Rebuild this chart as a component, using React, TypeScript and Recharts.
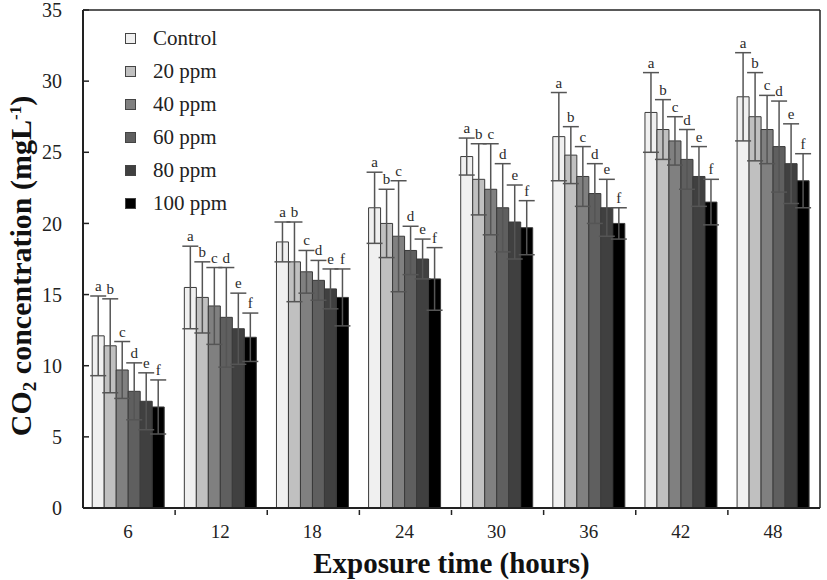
import React from 'react';
import { BarChart, Bar, XAxis, YAxis, ErrorBar, LabelList, Label } from 'recharts';

// exposure time groups (hours)
const hours = ['6', '12', '18', '24', '30', '36', '42', '48'];

const control = [12.1, 15.5, 18.7, 21.1, 24.7, 26.1, 27.8, 28.9];
const controlErr = [2.8, 2.9, 1.4, 2.5, 1.3, 3.1, 2.8, 3.1];
const ppm20 = [11.4, 14.8, 17.3, 20.0, 23.1, 24.8, 26.6, 27.5];
const ppm20Err = [3.3, 2.5, 2.8, 2.4, 2.5, 2.0, 2.1, 3.1];
const ppm40 = [9.7, 14.2, 16.6, 19.1, 22.4, 23.3, 25.8, 26.6];
const ppm40Err = [2.0, 2.7, 1.5, 3.9, 3.2, 2.1, 1.7, 2.4];
const ppm60 = [8.2, 13.4, 16.0, 18.1, 21.1, 22.1, 24.5, 25.4];
const ppm60Err = [2.0, 3.5, 1.4, 1.7, 3.1, 2.1, 2.1, 3.2];
const ppm80 = [7.5, 12.6, 15.4, 17.5, 20.1, 21.1, 23.3, 24.2];
const ppm80Err = [2.0, 2.5, 1.4, 1.4, 2.6, 2.0, 2.1, 2.8];
const ppm100 = [7.1, 12.0, 14.8, 16.1, 19.7, 20.0, 21.5, 23.0];
const ppm100Err = [1.9, 1.7, 2.0, 2.2, 1.9, 1.1, 1.6, 1.9];

const yTicks = [0, 5, 10, 15, 20, 25, 30, 35];

const series = [
  { key: 'control', name: 'Control', values: control, errs: controlErr, color: '#f0f0f0', letter: 'a' },
  { key: 'p20', name: '20 ppm', values: ppm20, errs: ppm20Err, color: '#c0c0c0', letter: 'b' },
  { key: 'p40', name: '40 ppm', values: ppm40, errs: ppm40Err, color: '#808080', letter: 'c' },
  { key: 'p60', name: '60 ppm', values: ppm60, errs: ppm60Err, color: '#5f5f5f', letter: 'd' },
  { key: 'p80', name: '80 ppm', values: ppm80, errs: ppm80Err, color: '#404040', letter: 'e' },
  { key: 'p100', name: '100 ppm', values: ppm100, errs: ppm100Err, color: '#000000', letter: 'f' },
];

const data = hours.map((h, i) => {
  const row: any = { hour: h };
  series.forEach((s) => {
    row[s.key] = s.values[i];
    row[s.key + 'Err'] = s.errs[i];
  });
  return row;
});

const FONT = '"Liberation Serif", "Times New Roman", serif';
const W = 827;
const H = 580;
const M = { top: 9, right: 6, bottom: 0, left: 0 };
const Y_W = 83;
const BAND = (W - Y_W - 7) / hours.length;

const XTick = (props: any) => {
  const { x, y, payload, index } = props;
  return (
    <g>
      {index < hours.length - 1 && (
        <line x1={x + BAND / 2} x2={x + BAND / 2} y1={y - 1} y2={y - 6} stroke="#222" strokeWidth={1.5} />
      )}
      <text x={x - 1} y={y + 22} textAnchor="middle" fontFamily={FONT} fontSize={19} fill="#222">
        {payload.value}
      </text>
    </g>
  );
};

const makeLetter = (errs: number[], letter: string) => (props: any) => {
  const { x, y, width, height, value, index } = props;
  if (!value) return null;
  const top = y - errs[index] * (height / value);
  return (
    <text x={x + width / 2} y={top - 5} textAnchor="middle" fontFamily={FONT} fontSize={15} fill="#2a2a2a">
      {letter}
    </text>
  );
};

const LegendBox = () => (
  <div style={{ position: 'absolute', left: 125, top: 22, fontFamily: FONT, fontSize: 21, color: '#222' }}>
    {series.map((s) => (
      <div key={s.key} style={{ display: 'flex', alignItems: 'center', height: 33 }}>
        <span
          style={{
            display: 'inline-block',
            width: 9,
            height: 9,
            background: s.color,
            border: '1px solid #444',
            marginRight: 17,
          }}
        />
        <span style={{ fontFamily: FONT }}>{s.name}</span>
      </div>
    ))}
  </div>
);

const YLabel = () => (
  <text
    transform={`translate(31, 266) rotate(-90)`}
    textAnchor="middle"
    fontFamily={FONT}
    fontSize={30}
    fontWeight="bold"
    fill="#111"
  >
    CO
    <tspan fontSize={19} dy={5}>2</tspan>
    <tspan dy={-5}> concentration (mgL</tspan>
    <tspan fontSize={17} dy={-10}>-1</tspan>
    <tspan dy={10}>)</tspan>
  </text>
);

export default function App() {
  return (
    <div style={{ position: 'absolute', left: 0, top: 0, width: W, height: H, background: '#fff' }}>
      <BarChart width={W} height={H} data={data} margin={M} barCategoryGap="10%" barGap={0}>
        <XAxis
          dataKey="hour"
          height={72}
          tick={<XTick />}
          tickLine={false}
          axisLine={{ stroke: '#222', strokeWidth: 2 }}
          interval={0}
        >
          <Label
            value="Exposure time (hours)"
            position="insideBottom"
            offset={7}
            style={{ fontFamily: FONT, fontSize: 29, fontWeight: 'bold', fill: '#111' }}
          />
        </XAxis>
        <XAxis xAxisId="top" orientation="top" dataKey="hour" height={1} tick={false} tickLine={false} axisLine={{ stroke: '#222', strokeWidth: 1.5 }} />
        <YAxis
          width={Y_W}
          domain={[0, 35]}
          ticks={yTicks}
          interval={0}
          tickSize={-6}
          tickMargin={27}
          tickLine={{ stroke: '#222', strokeWidth: 1.5 }}
          axisLine={{ stroke: '#222', strokeWidth: 2 }}
          tick={{ fontFamily: FONT, fontSize: 20, fill: '#222' }}
          label={<YLabel />}
        />
        <YAxis yAxisId="right" orientation="right" width={1} domain={[0, 35]} tick={false} tickLine={false} axisLine={{ stroke: '#222', strokeWidth: 1.5 }} />
        {series.map((s) => (
          <Bar key={s.key} dataKey={s.key} name={s.name} fill={s.color} stroke="#3a3a3a" strokeWidth={1} isAnimationActive={false}>
            <ErrorBar dataKey={s.key + 'Err'} width={8} stroke="#555" strokeWidth={1.5} direction="y" />
            <LabelList dataKey={s.key} content={makeLetter(s.errs, s.letter)} />
          </Bar>
        ))}
      </BarChart>
      <LegendBox />
    </div>
  );
}
